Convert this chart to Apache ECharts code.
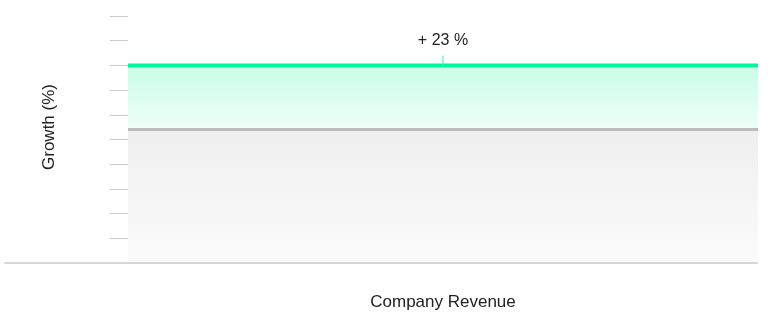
<!DOCTYPE html>
<html>
<head>
<meta charset="utf-8">
<script src="https://cdn.jsdelivr.net/npm/echarts@6/dist/echarts.min.js"></script>
<style>html,body{margin:0;padding:0;background:#fff}#c{width:768px;height:336px}</style>
</head>
<body>
<div id="c"></div>
<script>
var categories = ['start', 'mid', 'end'];
var baseValues = [54, 54, 54];
var gainValues = [26, 26, 26];
var growthLabel = '+ 23 %';
var yAxisName = 'Growth (%)';
var xAxisName = 'Company Revenue';

var chart = echarts.init(document.getElementById('c'));
var font = 'Liberation Sans, Arial, sans-serif';
chart.setOption({
  animation: false,
  grid: [
    {left: 128, right: 10, top: 16, bottom: 73},
    {left: 5, right: 11, top: 16, bottom: 73}
  ],
  xAxis: [
    {
      type: 'category', gridIndex: 0, data: categories, boundaryGap: false,
      axisLine: {show: false}, axisTick: {show: false}, axisLabel: {show: false},
      name: xAxisName, nameLocation: 'middle', nameGap: 31,
      nameTextStyle: {fontFamily: font, fontSize: 17, color: '#222'}
    },
    {
      type: 'value', gridIndex: 1, min: 0, max: 1, z: 10,
      axisLine: {show: true, lineStyle: {color: '#d6d6d6', width: 2}},
      axisTick: {show: false}, axisLabel: {show: false}, splitLine: {show: false}
    }
  ],
  yAxis: [
    {
      type: 'value', gridIndex: 0, min: 0, max: 100, interval: 10,
      axisLine: {show: false},
      axisTick: {show: true, length: 18, lineStyle: {color: '#cccccc', width: 1}},
      axisLabel: {show: false}, splitLine: {show: false},
      name: yAxisName, nameLocation: 'middle', nameGap: 70,
      nameTextStyle: {fontFamily: font, fontSize: 17, color: '#222', padding: [0, 0, 0, 25]}
    },
    {
      type: 'value', gridIndex: 1, show: false, min: 0, max: 1
    }
  ],
  series: [
    {
      type: 'line', xAxisIndex: 0, yAxisIndex: 0, stack: 'g', data: baseValues,
      symbol: 'none', z: 4,
      lineStyle: {color: '#bcbcbc', width: 3},
      areaStyle: {color: new echarts.graphic.LinearGradient(0, 0, 0, 1, [
        {offset: 0, color: '#efefef'}, {offset: 1, color: '#fbfbfb'}
      ]), opacity: 1}
    },
    {
      type: 'line', xAxisIndex: 0, yAxisIndex: 0, stack: 'g', data: gainValues,
      symbol: 'none', z: 3,
      lineStyle: {color: '#00f59e', width: 4},
      areaStyle: {color: new echarts.graphic.LinearGradient(0, 0, 0, 1, [
        {offset: 0, color: '#c9fde8'}, {offset: 1, color: '#effff8'}
      ]), opacity: 1},
      markPoint: {
        silent: true,
        symbol: 'rect', symbolSize: [1, 10], symbolOffset: [0, -5],
        itemStyle: {color: '#4ee8b0'},
        label: {
          show: true, position: 'top', distance: 7, formatter: growthLabel,
          fontFamily: font, fontSize: 16, color: '#222'
        },
        data: [{coord: [1, baseValues[1] + gainValues[1]]}]
      }
    }
  ]
});
</script>
</body>
</html>
